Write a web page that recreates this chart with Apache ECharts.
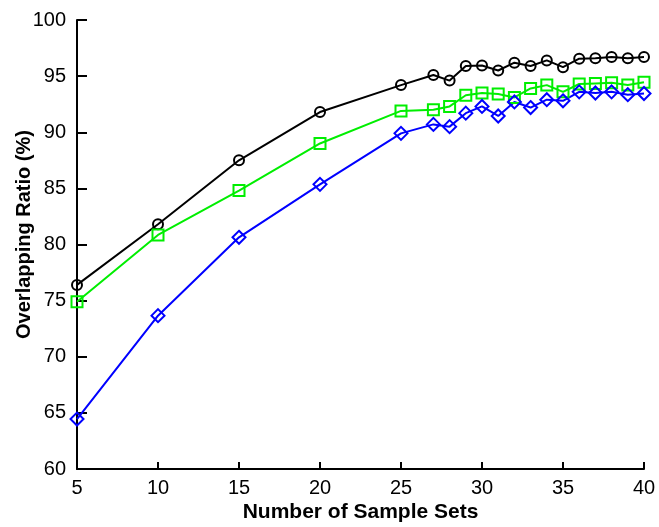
<!DOCTYPE html>
<html><head><meta charset="utf-8">
<script src="https://cdn.jsdelivr.net/npm/echarts@6/dist/echarts.min.js"></script>
<style>html,body{margin:0;padding:0;background:#fff}#c{width:659px;height:527px}</style>
</head><body><div id="c"></div>
<script>
var sampleSets = [5,10,15,20,25,27,28,29,30,31,32,33,34,35,36,37,38,39,40];
var blackSeries = [76.4,81.8,87.5,91.8,94.2,95.1,94.6,95.9,95.95,95.5,96.2,95.9,96.4,95.8,96.55,96.6,96.7,96.6,96.7];
var greenSeries = [74.9,80.85,84.8,89.0,91.9,92.0,92.3,93.3,93.5,93.4,93.1,93.9,94.2,93.6,94.3,94.35,94.4,94.2,94.45];
var blueSeries  = [64.45,73.66,80.64,85.36,89.9,90.7,90.5,91.7,92.3,91.45,92.7,92.2,92.9,92.8,93.6,93.5,93.6,93.35,93.45];
var yTicks = [60,65,70,75,80,85,90,95,100];

function pairs(v){ return sampleSets.map(function(x,i){ return [x, v[i]]; }); }
var font = 'Liberation Sans, Arial, sans-serif';
function mk(data, color, symbol, size){
  return {type:'line', data:pairs(data), symbol:symbol, symbolSize:size,
    lineStyle:{color:color,width:2}, itemStyle:{color:'rgba(0,0,0,0)',borderColor:color,borderWidth:2},
    emphasis:{disabled:true}, z:2};
}
var chart = echarts.init(document.getElementById('c'), null, {renderer:'canvas'});
chart.setOption({
  animation:false,
  backgroundColor:'#fff',
  grid:{left:77,right:15,top:20,bottom:58,containLabel:false,outerBoundsMode:'none'},
  xAxis:{type:'value',min:5,max:40,interval:5,
    name:'Number of Sample Sets',nameLocation:'middle',nameGap:33,nameMoveOverlap:false,
    nameTextStyle:{fontFamily:font,fontSize:21,fontWeight:'bold',color:'#000'},
    axisLine:{lineStyle:{color:'#000',width:2}},
    axisTick:{inside:true,length:7,lineStyle:{color:'#000',width:2}},
    axisLabel:{fontFamily:font,fontSize:20,color:'#000',margin:9},
    splitLine:{show:false}},
  yAxis:{type:'value',min:yTicks[0],max:yTicks[yTicks.length-1],interval:5,
    name:'Overlapping Ratio (%)',nameLocation:'middle',nameGap:43,nameMoveOverlap:false,
    nameTextStyle:{fontFamily:font,fontSize:20,fontWeight:'bold',color:'#000',padding:[0,0,0,20]},
    axisLine:{show:true,lineStyle:{color:'#000',width:2}},
    axisTick:{show:true,inside:true,length:10,lineStyle:{color:'#000',width:2}},
    axisLabel:{fontFamily:font,fontSize:20,color:'#000',margin:11},
    splitLine:{show:false}},
  series:[
    mk(blackSeries,'#000000','circle',10),
    mk(greenSeries,'#00ee00','rect',11),
    mk(blueSeries,'#0000ff','diamond',13)
  ]
});
</script></body></html>
